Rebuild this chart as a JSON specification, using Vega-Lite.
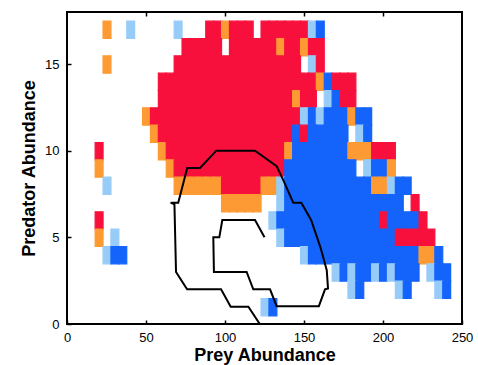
{
 "$schema": "https://vega.github.io/schema/vega-lite/v6.json",
 "width": 395, "height": 312,
 "autosize": {"type": "none"},
 "padding": {"left": 67, "top": 12, "right": 16, "bottom": 41},
 "background": "white",
 "config": {
  "view": {"stroke": "black", "strokeWidth": 2},
  "font": "Liberation Sans",
  "axis": {"domain": false, "grid": false, "tickColor": "black", "tickWidth": 1.5, "labelColor": "black", "titleColor": "black", "labelFontSize": 13, "titleFontSize": 18, "titleFontWeight": "bold"}
 },
 "datasets": {
  "cells": [
{"x":25,"y":17,"c":"O"},{"x":40,"y":17,"c":"L"},{"x":70,"y":17,"c":"L"},{"x":90,"y":17,"c":"R"},{"x":95,"y":17,"c":"R"},{"x":100,"y":17,"c":"O"},{"x":105,"y":17,"c":"R"},{"x":110,"y":17,"c":"R"},{"x":115,"y":17,"c":"R"},{"x":125,"y":17,"c":"R"},{"x":130,"y":17,"c":"R"},{"x":135,"y":17,"c":"R"},{"x":140,"y":17,"c":"R"},{"x":145,"y":17,"c":"R"},{"x":150,"y":17,"c":"R"},{"x":155,"y":17,"c":"L"},{"x":160,"y":17,"c":"B"},
{"x":75,"y":16,"c":"R"},{"x":80,"y":16,"c":"R"},{"x":85,"y":16,"c":"R"},{"x":90,"y":16,"c":"R"},{"x":95,"y":16,"c":"R"},{"x":105,"y":16,"c":"R"},{"x":110,"y":16,"c":"R"},{"x":115,"y":16,"c":"R"},{"x":120,"y":16,"c":"R"},{"x":125,"y":16,"c":"R"},{"x":130,"y":16,"c":"R"},{"x":135,"y":16,"c":"O"},{"x":140,"y":16,"c":"R"},{"x":145,"y":16,"c":"R"},{"x":150,"y":16,"c":"O"},{"x":155,"y":16,"c":"R"},{"x":160,"y":16,"c":"R"},
{"x":25,"y":15,"c":"O"},{"x":70,"y":15,"c":"R"},{"x":75,"y":15,"c":"R"},{"x":80,"y":15,"c":"R"},{"x":85,"y":15,"c":"R"},{"x":90,"y":15,"c":"R"},{"x":95,"y":15,"c":"R"},{"x":100,"y":15,"c":"R"},{"x":105,"y":15,"c":"R"},{"x":110,"y":15,"c":"R"},{"x":115,"y":15,"c":"R"},{"x":120,"y":15,"c":"R"},{"x":125,"y":15,"c":"R"},{"x":130,"y":15,"c":"R"},{"x":135,"y":15,"c":"R"},{"x":140,"y":15,"c":"R"},{"x":145,"y":15,"c":"R"},{"x":155,"y":15,"c":"L"},{"x":160,"y":15,"c":"R"},
{"x":60,"y":14,"c":"R"},{"x":65,"y":14,"c":"R"},{"x":70,"y":14,"c":"R"},{"x":75,"y":14,"c":"R"},{"x":80,"y":14,"c":"R"},{"x":85,"y":14,"c":"R"},{"x":90,"y":14,"c":"R"},{"x":95,"y":14,"c":"R"},{"x":100,"y":14,"c":"R"},{"x":105,"y":14,"c":"R"},{"x":110,"y":14,"c":"R"},{"x":115,"y":14,"c":"R"},{"x":120,"y":14,"c":"R"},{"x":125,"y":14,"c":"R"},{"x":130,"y":14,"c":"R"},{"x":135,"y":14,"c":"R"},{"x":140,"y":14,"c":"R"},{"x":145,"y":14,"c":"R"},{"x":150,"y":14,"c":"R"},{"x":155,"y":14,"c":"R"},{"x":160,"y":14,"c":"O"},{"x":165,"y":14,"c":"B"},{"x":170,"y":14,"c":"R"},{"x":175,"y":14,"c":"R"},{"x":180,"y":14,"c":"R"},
{"x":60,"y":13,"c":"R"},{"x":65,"y":13,"c":"R"},{"x":70,"y":13,"c":"R"},{"x":75,"y":13,"c":"R"},{"x":80,"y":13,"c":"R"},{"x":85,"y":13,"c":"R"},{"x":90,"y":13,"c":"R"},{"x":95,"y":13,"c":"R"},{"x":100,"y":13,"c":"R"},{"x":105,"y":13,"c":"R"},{"x":110,"y":13,"c":"R"},{"x":115,"y":13,"c":"R"},{"x":120,"y":13,"c":"R"},{"x":125,"y":13,"c":"R"},{"x":130,"y":13,"c":"R"},{"x":135,"y":13,"c":"R"},{"x":140,"y":13,"c":"R"},{"x":145,"y":13,"c":"O"},{"x":150,"y":13,"c":"R"},{"x":155,"y":13,"c":"R"},{"x":165,"y":13,"c":"L"},{"x":170,"y":13,"c":"B"},{"x":175,"y":13,"c":"R"},{"x":180,"y":13,"c":"R"},
{"x":50,"y":12,"c":"O"},{"x":55,"y":12,"c":"R"},{"x":60,"y":12,"c":"R"},{"x":65,"y":12,"c":"R"},{"x":70,"y":12,"c":"R"},{"x":75,"y":12,"c":"R"},{"x":80,"y":12,"c":"R"},{"x":85,"y":12,"c":"R"},{"x":90,"y":12,"c":"R"},{"x":95,"y":12,"c":"R"},{"x":100,"y":12,"c":"R"},{"x":105,"y":12,"c":"R"},{"x":110,"y":12,"c":"R"},{"x":115,"y":12,"c":"R"},{"x":120,"y":12,"c":"R"},{"x":125,"y":12,"c":"R"},{"x":130,"y":12,"c":"R"},{"x":135,"y":12,"c":"R"},{"x":140,"y":12,"c":"R"},{"x":145,"y":12,"c":"R"},{"x":150,"y":12,"c":"L"},{"x":155,"y":12,"c":"B"},{"x":160,"y":12,"c":"L"},{"x":165,"y":12,"c":"B"},{"x":170,"y":12,"c":"B"},{"x":175,"y":12,"c":"B"},{"x":180,"y":12,"c":"O"},{"x":185,"y":12,"c":"B"},{"x":190,"y":12,"c":"B"},
{"x":55,"y":11,"c":"O"},{"x":60,"y":11,"c":"R"},{"x":65,"y":11,"c":"R"},{"x":70,"y":11,"c":"R"},{"x":75,"y":11,"c":"R"},{"x":80,"y":11,"c":"R"},{"x":85,"y":11,"c":"R"},{"x":90,"y":11,"c":"R"},{"x":95,"y":11,"c":"R"},{"x":100,"y":11,"c":"R"},{"x":105,"y":11,"c":"R"},{"x":110,"y":11,"c":"R"},{"x":115,"y":11,"c":"R"},{"x":120,"y":11,"c":"R"},{"x":125,"y":11,"c":"R"},{"x":130,"y":11,"c":"R"},{"x":135,"y":11,"c":"R"},{"x":140,"y":11,"c":"R"},{"x":145,"y":11,"c":"B"},{"x":150,"y":11,"c":"R"},{"x":155,"y":11,"c":"B"},{"x":160,"y":11,"c":"B"},{"x":165,"y":11,"c":"B"},{"x":170,"y":11,"c":"B"},{"x":175,"y":11,"c":"B"},{"x":185,"y":11,"c":"L"},{"x":190,"y":11,"c":"B"},
{"x":20,"y":10,"c":"R"},{"x":60,"y":10,"c":"O"},{"x":65,"y":10,"c":"R"},{"x":70,"y":10,"c":"R"},{"x":75,"y":10,"c":"R"},{"x":80,"y":10,"c":"R"},{"x":85,"y":10,"c":"R"},{"x":90,"y":10,"c":"R"},{"x":95,"y":10,"c":"R"},{"x":100,"y":10,"c":"R"},{"x":105,"y":10,"c":"R"},{"x":110,"y":10,"c":"R"},{"x":115,"y":10,"c":"R"},{"x":120,"y":10,"c":"R"},{"x":125,"y":10,"c":"R"},{"x":130,"y":10,"c":"R"},{"x":135,"y":10,"c":"R"},{"x":140,"y":10,"c":"O"},{"x":145,"y":10,"c":"B"},{"x":150,"y":10,"c":"B"},{"x":155,"y":10,"c":"B"},{"x":160,"y":10,"c":"B"},{"x":165,"y":10,"c":"B"},{"x":170,"y":10,"c":"B"},{"x":175,"y":10,"c":"B"},{"x":180,"y":10,"c":"O"},{"x":185,"y":10,"c":"O"},{"x":190,"y":10,"c":"O"},{"x":195,"y":10,"c":"R"},{"x":200,"y":10,"c":"R"},{"x":205,"y":10,"c":"R"},
{"x":20,"y":9,"c":"O"},{"x":65,"y":9,"c":"O"},{"x":70,"y":9,"c":"R"},{"x":75,"y":9,"c":"R"},{"x":80,"y":9,"c":"R"},{"x":85,"y":9,"c":"R"},{"x":90,"y":9,"c":"R"},{"x":95,"y":9,"c":"R"},{"x":100,"y":9,"c":"R"},{"x":105,"y":9,"c":"R"},{"x":110,"y":9,"c":"R"},{"x":115,"y":9,"c":"R"},{"x":120,"y":9,"c":"R"},{"x":125,"y":9,"c":"R"},{"x":130,"y":9,"c":"R"},{"x":135,"y":9,"c":"R"},{"x":140,"y":9,"c":"B"},{"x":145,"y":9,"c":"B"},{"x":150,"y":9,"c":"B"},{"x":155,"y":9,"c":"B"},{"x":160,"y":9,"c":"B"},{"x":165,"y":9,"c":"B"},{"x":170,"y":9,"c":"B"},{"x":175,"y":9,"c":"B"},{"x":180,"y":9,"c":"B"},{"x":190,"y":9,"c":"L"},{"x":195,"y":9,"c":"B"},{"x":200,"y":9,"c":"B"},{"x":205,"y":9,"c":"O"},
{"x":25,"y":8,"c":"L"},{"x":70,"y":8,"c":"O"},{"x":75,"y":8,"c":"O"},{"x":80,"y":8,"c":"O"},{"x":85,"y":8,"c":"O"},{"x":90,"y":8,"c":"O"},{"x":95,"y":8,"c":"O"},{"x":100,"y":8,"c":"R"},{"x":105,"y":8,"c":"R"},{"x":110,"y":8,"c":"R"},{"x":115,"y":8,"c":"R"},{"x":120,"y":8,"c":"R"},{"x":125,"y":8,"c":"O"},{"x":130,"y":8,"c":"O"},{"x":135,"y":8,"c":"L"},{"x":140,"y":8,"c":"B"},{"x":145,"y":8,"c":"B"},{"x":150,"y":8,"c":"B"},{"x":155,"y":8,"c":"B"},{"x":160,"y":8,"c":"B"},{"x":165,"y":8,"c":"B"},{"x":170,"y":8,"c":"B"},{"x":175,"y":8,"c":"B"},{"x":180,"y":8,"c":"B"},{"x":185,"y":8,"c":"B"},{"x":190,"y":8,"c":"B"},{"x":195,"y":8,"c":"O"},{"x":200,"y":8,"c":"O"},{"x":205,"y":8,"c":"L"},{"x":210,"y":8,"c":"B"},{"x":215,"y":8,"c":"B"},
{"x":100,"y":7,"c":"O"},{"x":105,"y":7,"c":"O"},{"x":110,"y":7,"c":"O"},{"x":115,"y":7,"c":"O"},{"x":120,"y":7,"c":"O"},{"x":135,"y":7,"c":"L"},{"x":140,"y":7,"c":"B"},{"x":145,"y":7,"c":"B"},{"x":150,"y":7,"c":"B"},{"x":155,"y":7,"c":"B"},{"x":160,"y":7,"c":"B"},{"x":165,"y":7,"c":"B"},{"x":170,"y":7,"c":"B"},{"x":175,"y":7,"c":"B"},{"x":180,"y":7,"c":"B"},{"x":185,"y":7,"c":"B"},{"x":190,"y":7,"c":"B"},{"x":195,"y":7,"c":"B"},{"x":200,"y":7,"c":"B"},{"x":205,"y":7,"c":"B"},{"x":210,"y":7,"c":"B"},{"x":220,"y":7,"c":"R"},
{"x":20,"y":6,"c":"R"},{"x":130,"y":6,"c":"L"},{"x":135,"y":6,"c":"B"},{"x":140,"y":6,"c":"B"},{"x":145,"y":6,"c":"B"},{"x":150,"y":6,"c":"B"},{"x":155,"y":6,"c":"B"},{"x":160,"y":6,"c":"B"},{"x":165,"y":6,"c":"B"},{"x":170,"y":6,"c":"B"},{"x":175,"y":6,"c":"B"},{"x":180,"y":6,"c":"B"},{"x":185,"y":6,"c":"B"},{"x":190,"y":6,"c":"B"},{"x":195,"y":6,"c":"B"},{"x":200,"y":6,"c":"R"},{"x":205,"y":6,"c":"B"},{"x":210,"y":6,"c":"B"},{"x":215,"y":6,"c":"B"},{"x":220,"y":6,"c":"B"},{"x":225,"y":6,"c":"R"},
{"x":20,"y":5,"c":"O"},{"x":30,"y":5,"c":"L"},{"x":135,"y":5,"c":"L"},{"x":140,"y":5,"c":"B"},{"x":145,"y":5,"c":"B"},{"x":150,"y":5,"c":"B"},{"x":155,"y":5,"c":"B"},{"x":160,"y":5,"c":"B"},{"x":165,"y":5,"c":"B"},{"x":170,"y":5,"c":"B"},{"x":175,"y":5,"c":"B"},{"x":180,"y":5,"c":"B"},{"x":185,"y":5,"c":"B"},{"x":190,"y":5,"c":"B"},{"x":195,"y":5,"c":"B"},{"x":200,"y":5,"c":"B"},{"x":205,"y":5,"c":"B"},{"x":210,"y":5,"c":"R"},{"x":215,"y":5,"c":"R"},{"x":220,"y":5,"c":"R"},{"x":225,"y":5,"c":"R"},{"x":230,"y":5,"c":"R"},
{"x":25,"y":4,"c":"L"},{"x":30,"y":4,"c":"B"},{"x":35,"y":4,"c":"B"},{"x":150,"y":4,"c":"L"},{"x":155,"y":4,"c":"B"},{"x":160,"y":4,"c":"B"},{"x":165,"y":4,"c":"B"},{"x":170,"y":4,"c":"B"},{"x":175,"y":4,"c":"B"},{"x":180,"y":4,"c":"B"},{"x":185,"y":4,"c":"B"},{"x":190,"y":4,"c":"B"},{"x":195,"y":4,"c":"B"},{"x":200,"y":4,"c":"B"},{"x":205,"y":4,"c":"B"},{"x":210,"y":4,"c":"B"},{"x":215,"y":4,"c":"B"},{"x":220,"y":4,"c":"B"},{"x":225,"y":4,"c":"O"},{"x":230,"y":4,"c":"O"},{"x":235,"y":4,"c":"B"},
{"x":170,"y":3,"c":"L"},{"x":175,"y":3,"c":"B"},{"x":180,"y":3,"c":"L"},{"x":185,"y":3,"c":"B"},{"x":190,"y":3,"c":"B"},{"x":195,"y":3,"c":"L"},{"x":200,"y":3,"c":"B"},{"x":205,"y":3,"c":"L"},{"x":210,"y":3,"c":"B"},{"x":215,"y":3,"c":"B"},{"x":220,"y":3,"c":"B"},{"x":230,"y":3,"c":"L"},{"x":235,"y":3,"c":"B"},{"x":240,"y":3,"c":"B"},
{"x":180,"y":2,"c":"L"},{"x":185,"y":2,"c":"B"},{"x":210,"y":2,"c":"L"},{"x":215,"y":2,"c":"B"},{"x":235,"y":2,"c":"L"},{"x":240,"y":2,"c":"B"},
{"x":125,"y":1,"c":"L"},{"x":130,"y":1,"c":"B"}
  ],
  "path": [
{"o":1,"lx":122,"ly":0},{"o":2,"lx":114.8,"ly":1},{"o":3,"lx":103.6,"ly":1},{"o":4,"lx":97.5,"ly":2},{"o":5,"lx":76,"ly":2},{"o":6,"lx":69,"ly":3},{"o":7,"lx":68,"ly":6.9},{"o":8,"lx":65.6,"ly":7},{"o":9,"lx":70.4,"ly":7},{"o":10,"lx":76.1,"ly":9},{"o":11,"lx":84.2,"ly":9},{"o":12,"lx":94.5,"ly":10},{"o":13,"lx":119,"ly":10},{"o":14,"lx":132.7,"ly":9.1},{"o":15,"lx":136.9,"ly":8.3},{"o":16,"lx":143.2,"ly":7},{"o":17,"lx":148.3,"ly":7},{"o":18,"lx":154.5,"ly":6},{"o":19,"lx":160.5,"ly":4.4},{"o":20,"lx":164.4,"ly":3.1},{"o":21,"lx":165.2,"ly":2.05},{"o":22,"lx":163.3,"ly":2},{"o":23,"lx":159.4,"ly":1.03},{"o":24,"lx":132.7,"ly":1.03},{"o":25,"lx":128.5,"ly":2},{"o":26,"lx":117.9,"ly":2},{"o":27,"lx":113.7,"ly":3},{"o":28,"lx":93,"ly":3},{"o":29,"lx":92.6,"ly":5},{"o":30,"lx":96.4,"ly":5},{"o":31,"lx":98.3,"ly":6},{"o":32,"lx":119,"ly":6},{"o":33,"lx":125,"ly":5}
  ]
 },
 "layer": [
  {
   "data": {"name": "cells"},
   "mark": {"type": "rect", "binSpacing": 0, "strokeWidth": 1.2},
   "encoding": {
    "x": {"field": "x", "type": "quantitative", "bin": {"step": 5, "anchor": 2.5, "extent": [-2.5, 252.5], "nice": false}, "scale": {"domain": [0, 250], "nice": false},
          "axis": {"orient": "bottom", "values": [0, 50, 100, 150, 200, 250], "title": "Prey Abundance", "tickSize": -4, "labelPadding": 11, "titlePadding": 2, "labelFlush": false, "labelOverlap": false}},
    "y": {"field": "y", "type": "quantitative", "bin": {"step": 1, "anchor": 0.5, "extent": [-0.5, 18.5], "nice": false}, "scale": {"domain": [0, 18], "nice": false},
          "axis": {"orient": "left", "values": [0, 5, 10, 15], "title": "Predator Abundance", "tickSize": -4, "labelPadding": 12, "titlePadding": 6, "labelFlush": false, "labelOverlap": false}},
    "color": {"field": "c", "type": "nominal", "scale": {"domain": ["R", "O", "L", "B"], "range": ["#f8103c", "#fd9a33", "#98ccf8", "#1464fb"]}, "legend": null},
    "stroke": {"field": "c", "type": "nominal", "scale": {"domain": ["R", "O", "L", "B"], "range": ["#f8103c", "#fd9a33", "#98ccf8", "#1464fb"]}, "legend": null}
   }
  },
  {
   "data": {"name": "path"},
   "mark": {"type": "line", "color": "black", "strokeWidth": 2},
   "encoding": {
    "x": {"field": "lx", "type": "quantitative", "axis": {"orient": "top", "values": [50, 100, 150, 200], "labels": false, "title": null, "tickSize": -4}},
    "y": {"field": "ly", "type": "quantitative", "axis": null},
    "order": {"field": "o", "type": "quantitative"}
   }
  }
 ],
 "resolve": {"axis": {"x": "independent", "y": "independent"}}
}
